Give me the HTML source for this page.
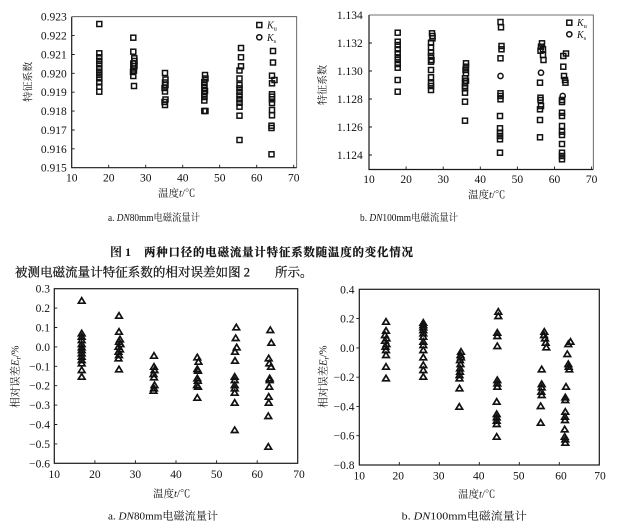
<!DOCTYPE html>
<html><head><meta charset="utf-8"><style>
html,body{margin:0;padding:0;background:#fff;}
svg{display:block;}
.t{font-family:"Liberation Serif","Noto Serif CJK SC",serif;fill:#111;}
</style></head><body>
<svg width="617" height="528" viewBox="0 0 617 528" xmlns="http://www.w3.org/2000/svg">
<defs>
<rect id="s" x="-2.5" y="-2.5" width="5" height="5" fill="none" stroke="#111" stroke-width="1.5"/>
<circle id="c" r="2.6" fill="none" stroke="#111" stroke-width="1.5"/>
<path id="tr" d="M0,-3 L3.3,2.5 L-3.3,2.5 Z" fill="none" stroke="#111" stroke-width="1.7" stroke-linejoin="miter"/>
</defs>

<!-- ============ Chart 1a ============ -->
<g stroke="#1a1a1a" fill="none">
<path d="M71.7,16.7 V167.7 H296.7" stroke-width="1.2"/>
<path d="M71.7,16.7 H296.7 V167.7" stroke-width="0.8" stroke="#444"/>
<path d="M108.7,167.7v-3 M145.7,167.7v-3 M182.7,167.7v-3 M219.7,167.7v-3 M256.7,167.7v-3 M293.7,167.7v-3" stroke-width="0.9"/>
<path d="M71.7,35.6h3 M71.7,54.5h3 M71.7,73.3h3 M71.7,92.2h3 M71.7,111.1h3 M71.7,130h3 M71.7,148.8h3" stroke-width="0.9"/>
</g>
<g class="t" font-size="11.5" text-anchor="end">
<text x="66.7" y="20.7">0.923</text><text x="66.7" y="39.6">0.922</text><text x="66.7" y="58.5">0.921</text><text x="66.7" y="77.3">0.920</text><text x="66.7" y="96.2">0.919</text><text x="66.7" y="115.1">0.918</text><text x="66.7" y="134">0.917</text><text x="66.7" y="152.8">0.916</text><text x="66.7" y="171.7">0.915</text>
</g>
<g class="t" font-size="11.5" text-anchor="middle">
<text x="71.7" y="181.5">10</text><text x="108.7" y="181.5">20</text><text x="145.7" y="181.5">30</text><text x="182.7" y="181.5">40</text><text x="219.7" y="181.5">50</text><text x="256.7" y="181.5">60</text><text x="293.7" y="181.5">70</text>
</g>
<text class="t" font-size="10.5" text-anchor="middle" x="176.7" y="196.5">温度<tspan font-style="italic">t</tspan>/℃</text>
<text class="t" font-size="10" text-anchor="middle" transform="translate(31.5,81.7) rotate(-90)">特征系数</text>
<use href="#s" x="259.3" y="25"/><use href="#c" x="259.3" y="37.3"/>
<text class="t" font-size="10" x="267" y="28.5" font-style="italic">K<tspan font-size="6.5" dy="2" font-style="normal">u</tspan></text>
<text class="t" font-size="10" x="267" y="40.8" font-style="italic">K<tspan font-size="6.5" dy="2" font-style="normal">s</tspan></text>
<g>
<use href="#s" x="99.3" y="24"/><use href="#s" x="99.3" y="53.3"/><use href="#s" x="99.3" y="57.3"/><use href="#s" x="99.3" y="61"/><use href="#s" x="99.3" y="64.3"/><use href="#s" x="99.3" y="68.3"/><use href="#s" x="99.3" y="71.7"/><use href="#s" x="99.3" y="75"/><use href="#s" x="99.3" y="78.3"/><use href="#s" x="99.3" y="82.3"/><use href="#s" x="99.3" y="86.7"/><use href="#s" x="99.3" y="91.7"/>
<use href="#s" x="133.3" y="37.7"/><use href="#s" x="133.3" y="51.7"/><use href="#s" x="134.3" y="58.3"/><use href="#s" x="134.5" y="61"/><use href="#s" x="133.3" y="63.5"/><use href="#s" x="134.5" y="66"/><use href="#s" x="133.3" y="68.5"/><use href="#s" x="134" y="70.5"/><use href="#s" x="133" y="72"/><use href="#s" x="133.3" y="76"/><use href="#s" x="134" y="86"/>
<use href="#s" x="165" y="73"/><use href="#s" x="165.5" y="79.5"/><use href="#s" x="165" y="82.5"/><use href="#s" x="165.5" y="85"/><use href="#s" x="164.5" y="88"/><use href="#s" x="165" y="91.5"/><use href="#s" x="165.5" y="99.5"/><use href="#s" x="164.5" y="102"/><use href="#s" x="165" y="105"/>
<use href="#s" x="205" y="75"/><use href="#s" x="205.5" y="78.5"/><use href="#s" x="204.3" y="82"/><use href="#s" x="204.5" y="85"/><use href="#s" x="204.3" y="88"/><use href="#s" x="205" y="91"/><use href="#s" x="204.3" y="94"/><use href="#s" x="204.5" y="97"/><use href="#s" x="204.3" y="100.5"/><use href="#s" x="204.3" y="111"/><use href="#s" x="205.5" y="111"/>
<use href="#s" x="241" y="48"/><use href="#s" x="241" y="57.3"/><use href="#s" x="241" y="66.3"/><use href="#s" x="239.5" y="70.5"/><use href="#s" x="239.5" y="78.5"/><use href="#s" x="239.5" y="85"/><use href="#s" x="239.5" y="88.3"/><use href="#s" x="239.5" y="92"/><use href="#s" x="239.5" y="95.5"/><use href="#s" x="239.5" y="99.3"/><use href="#s" x="239.5" y="102.7"/><use href="#s" x="239.5" y="106.7"/><use href="#s" x="239.5" y="115.7"/><use href="#s" x="239.5" y="140"/>
<use href="#s" x="273" y="51"/><use href="#s" x="273" y="62.5"/><use href="#s" x="272" y="75.7"/><use href="#s" x="274.5" y="80"/><use href="#s" x="272" y="83.3"/><use href="#s" x="272" y="94.3"/><use href="#s" x="272" y="96.7"/><use href="#s" x="272" y="99.3"/><use href="#s" x="272" y="103"/><use href="#s" x="272" y="110"/><use href="#s" x="272" y="115.3"/><use href="#s" x="271.5" y="125.7"/><use href="#s" x="271.5" y="128"/><use href="#s" x="271.5" y="154.3"/>
</g>

<!-- ============ Chart 1b ============ -->
<g stroke="#1a1a1a" fill="none">
<path d="M369,15 V169.5 H593.3" stroke-width="1.2"/>
<path d="M369,15 H593.3 V169.5" stroke-width="0.8" stroke="#444"/>
<path d="M406.1,169.5v-3 M443.2,169.5v-3 M480.3,169.5v-3 M517.4,169.5v-3 M554.5,169.5v-3 M591.6,169.5v-3" stroke-width="0.9"/>
<path d="M369,43h3 M369,71h3 M369,99h3 M369,127h3 M369,155h3" stroke-width="0.9"/>
</g>
<g class="t" font-size="11.5" text-anchor="end">
<text x="362.7" y="19">1.134</text><text x="362.7" y="47">1.132</text><text x="362.7" y="75">1.130</text><text x="362.7" y="103">1.128</text><text x="362.7" y="131">1.126</text><text x="362.7" y="159">1.124</text>
</g>
<g class="t" font-size="11.5" text-anchor="middle">
<text x="369" y="183">10</text><text x="406.1" y="183">20</text><text x="443.2" y="183">30</text><text x="480.3" y="183">40</text><text x="517.4" y="183">50</text><text x="554.5" y="183">60</text><text x="591.6" y="183">70</text>
</g>
<text class="t" font-size="10.5" text-anchor="middle" x="486.7" y="198">温度<tspan font-style="italic">t</tspan>/℃</text>
<text class="t" font-size="10" text-anchor="middle" transform="translate(326,85) rotate(-90)">特征系数</text>
<use href="#s" x="569.3" y="22.7"/><use href="#c" x="569.3" y="34.3"/>
<text class="t" font-size="10" x="577" y="26.2" font-style="italic">K<tspan font-size="6.5" dy="2" font-style="normal">u</tspan></text>
<text class="t" font-size="10" x="577" y="37.8" font-style="italic">K<tspan font-size="6.5" dy="2" font-style="normal">s</tspan></text>
<g>
<use href="#s" x="397.7" y="32.7"/><use href="#s" x="397.7" y="41.7"/><use href="#s" x="397.7" y="45"/><use href="#s" x="397.7" y="49.3"/><use href="#s" x="397.7" y="53.3"/><use href="#s" x="397.7" y="57.3"/><use href="#s" x="397.7" y="60"/><use href="#s" x="397.7" y="64"/><use href="#s" x="397.7" y="67.7"/><use href="#s" x="397.7" y="80"/><use href="#s" x="397.7" y="91.7"/>
<use href="#s" x="432" y="33.3"/><use href="#s" x="432.5" y="36"/><use href="#s" x="432.5" y="38.3"/><use href="#s" x="431" y="42.7"/><use href="#s" x="431" y="47.3"/><use href="#s" x="431" y="52.7"/><use href="#s" x="431" y="56"/><use href="#s" x="431.5" y="60"/><use href="#s" x="431" y="61.7"/><use href="#s" x="431" y="70"/><use href="#s" x="431" y="77.3"/><use href="#s" x="431" y="83.3"/><use href="#s" x="431" y="86"/><use href="#s" x="431" y="90"/>
<use href="#s" x="466" y="63.3"/><use href="#s" x="466" y="66.7"/><use href="#s" x="465.5" y="70"/><use href="#s" x="466" y="73.3"/><use href="#s" x="465" y="78.3"/><use href="#s" x="466" y="80.7"/><use href="#s" x="465" y="82.7"/><use href="#s" x="465" y="86"/><use href="#s" x="465" y="88.3"/><use href="#s" x="465" y="92.7"/><use href="#s" x="465" y="101.7"/><use href="#s" x="465" y="120.7"/>
<use href="#s" x="500.5" y="22"/><use href="#s" x="501" y="27.3"/><use href="#s" x="501.5" y="46"/><use href="#s" x="501.5" y="49.3"/><use href="#s" x="500.5" y="58.3"/><use href="#c" x="500.5" y="76"/><use href="#s" x="500.5" y="93.3"/><use href="#s" x="500.5" y="96"/><use href="#s" x="500.5" y="99.3"/><use href="#s" x="500" y="116"/><use href="#s" x="500" y="128.3"/><use href="#s" x="500" y="132.7"/><use href="#s" x="500" y="136"/><use href="#s" x="500" y="139.3"/><use href="#s" x="500" y="152.7"/>
<use href="#s" x="542" y="43.3"/><use href="#s" x="541" y="46.7"/><use href="#s" x="543" y="49.3"/><use href="#s" x="540.5" y="50.7"/><use href="#s" x="543" y="55"/><use href="#s" x="543.5" y="60"/><use href="#c" x="541" y="72.7"/><use href="#s" x="540" y="82.7"/><use href="#s" x="540.5" y="97.7"/><use href="#s" x="540.5" y="100"/><use href="#s" x="541" y="106"/><use href="#s" x="540" y="109.3"/><use href="#s" x="540" y="120"/><use href="#s" x="540" y="137.3"/>
<use href="#s" x="563.3" y="56"/><use href="#s" x="566" y="53.5"/><use href="#s" x="563.3" y="66.7"/><use href="#s" x="564" y="76"/><use href="#s" x="565" y="80"/><use href="#s" x="565.5" y="82.7"/><use href="#c" x="562.7" y="96"/><use href="#s" x="562" y="100"/><use href="#s" x="562" y="102"/><use href="#s" x="562" y="112.7"/><use href="#s" x="562" y="116"/><use href="#s" x="562" y="126"/><use href="#s" x="562" y="131.7"/><use href="#s" x="562" y="135"/><use href="#s" x="562" y="144"/><use href="#s" x="562" y="152.7"/><use href="#s" x="562" y="156"/><use href="#s" x="562" y="159.3"/>
</g>

<!-- ============ Captions / text ============ -->
<text class="t" font-size="10" x="108" y="221" textLength="92" lengthAdjust="spacingAndGlyphs">a. <tspan font-style="italic">DN</tspan>80mm电磁流量计</text>
<text class="t" font-size="10" x="360" y="221" textLength="98" lengthAdjust="spacingAndGlyphs">b. <tspan font-style="italic">DN</tspan>100mm电磁流量计</text>
<text class="t" font-size="12" x="110" y="256" font-weight="bold">图 1</text>
<text class="t" font-size="11.5" x="144" y="256" textLength="269" lengthAdjust="spacing" font-weight="bold" stroke="#111" stroke-width="0.2">两种口径的电磁流量计特征系数随温度的变化情况</text>
<text class="t" font-size="12.5" x="15" y="276.5" textLength="235" lengthAdjust="spacing" stroke="#111" stroke-width="0.25">被测电磁流量计特征系数的相对误差如图 2</text>
<text class="t" font-size="12.5" x="275" y="276.5" stroke="#111" stroke-width="0.25">所示。</text>

<!-- ============ Chart 2a ============ -->
<g stroke="#1a1a1a" fill="none">
<rect x="54.3" y="288.7" width="243.4" height="174.6" stroke-width="1.2"/>
<path d="M94.9,463.3v-3 M135.4,463.3v-3 M176,463.3v-3 M216.6,463.3v-3 M257.2,463.3v-3" stroke-width="0.9"/>
<path d="M54.3,308.1h3 M54.3,327.5h3 M54.3,346.9h3 M54.3,366.3h3 M54.3,385.7h3 M54.3,405.1h3 M54.3,424.5h3 M54.3,443.9h3" stroke-width="0.9"/>
</g>
<g class="t" font-size="11.5" text-anchor="end">
<text x="50" y="292.7">0.3</text><text x="50" y="312.1">0.2</text><text x="50" y="331.5">0.1</text><text x="50" y="350.9">0.0</text><text x="50" y="370.3">−0.1</text><text x="50" y="389.7">−0.2</text><text x="50" y="409.1">−0.3</text><text x="50" y="428.5">−0.4</text><text x="50" y="447.9">−0.5</text><text x="50" y="467.3">−0.6</text>
</g>
<g class="t" font-size="11.5" text-anchor="middle">
<text x="54.3" y="478">10</text><text x="94.9" y="478">20</text><text x="135.4" y="478">30</text><text x="176" y="478">40</text><text x="216.6" y="478">50</text><text x="257.2" y="478">60</text><text x="299" y="478">70</text>
</g>
<text class="t" font-size="10.5" text-anchor="middle" x="171.7" y="497">温度<tspan font-style="italic">t</tspan>/℃</text>
<text class="t" font-size="10.5" text-anchor="middle" transform="translate(18.5,376.7) rotate(-90)">相对误差<tspan font-style="italic">E</tspan><tspan font-size="7" dy="2">r</tspan><tspan dy="-2">/%</tspan></text>
<text class="t" font-size="11" x="108" y="519.5" textLength="110" lengthAdjust="spacingAndGlyphs">a.  <tspan font-style="italic">DN</tspan>80mm电磁流量计</text>
<g>
<use href="#tr" x="81.7" y="300.7"/><use href="#tr" x="81.7" y="333.3"/><use href="#tr" x="81.7" y="336.7"/><use href="#tr" x="81.7" y="340"/><use href="#tr" x="81.7" y="344"/><use href="#tr" x="81.7" y="347.3"/><use href="#tr" x="81.7" y="350"/><use href="#tr" x="81.7" y="353.3"/><use href="#tr" x="81.7" y="356.7"/><use href="#tr" x="81.7" y="360"/><use href="#tr" x="81.7" y="363.3"/><use href="#tr" x="81.7" y="370"/><use href="#tr" x="81.7" y="376.7"/>
<use href="#tr" x="119" y="315.7"/><use href="#tr" x="119" y="331.7"/><use href="#tr" x="120" y="339.3"/><use href="#tr" x="119" y="341.7"/><use href="#tr" x="120.5" y="344"/><use href="#tr" x="118.5" y="346.7"/><use href="#tr" x="120" y="349.3"/><use href="#tr" x="118.5" y="351.7"/><use href="#tr" x="119" y="355"/><use href="#tr" x="118.5" y="358.3"/><use href="#tr" x="119" y="369.3"/>
<use href="#tr" x="154" y="355.7"/><use href="#tr" x="154" y="366.7"/><use href="#tr" x="154.5" y="370"/><use href="#tr" x="153.5" y="374"/><use href="#tr" x="154" y="377.3"/><use href="#tr" x="154.5" y="385"/><use href="#tr" x="154" y="388.3"/><use href="#tr" x="153.5" y="390.7"/>
<use href="#tr" x="197.3" y="357.3"/><use href="#tr" x="198.5" y="361.7"/><use href="#tr" x="197.3" y="369"/><use href="#tr" x="198" y="370.7"/><use href="#tr" x="197.3" y="378.3"/><use href="#tr" x="197.8" y="380.7"/><use href="#tr" x="197" y="385"/><use href="#tr" x="198" y="386.7"/><use href="#tr" x="197.3" y="397.7"/>
<use href="#tr" x="236.3" y="327.3"/><use href="#tr" x="235.7" y="338"/><use href="#tr" x="236.7" y="347.3"/><use href="#tr" x="235" y="351.7"/><use href="#tr" x="235" y="360.7"/><use href="#tr" x="234.7" y="376.7"/><use href="#tr" x="234.7" y="380"/><use href="#tr" x="234.7" y="385"/><use href="#tr" x="234.7" y="388.3"/><use href="#tr" x="234.7" y="392.7"/><use href="#tr" x="234.7" y="402.7"/><use href="#tr" x="234.7" y="430"/>
<use href="#tr" x="270.3" y="330"/><use href="#tr" x="271.3" y="342.7"/><use href="#tr" x="268.7" y="358.3"/><use href="#tr" x="269.3" y="363.3"/><use href="#tr" x="271" y="366.7"/><use href="#tr" x="269.7" y="378.3"/><use href="#tr" x="269.7" y="380"/><use href="#tr" x="269.3" y="386.7"/><use href="#tr" x="268.7" y="396.7"/><use href="#tr" x="268.7" y="402.7"/><use href="#tr" x="268.3" y="416"/><use href="#tr" x="268.3" y="446.7"/>
</g>

<!-- ============ Chart 2b ============ -->
<g stroke="#1a1a1a" fill="none">
<rect x="359.3" y="289.3" width="240" height="175.7" stroke-width="1.2"/>
<path d="M399.3,465v-3 M439.3,465v-3 M479.3,465v-3 M519.3,465v-3 M559.3,465v-3" stroke-width="0.9"/>
<path d="M359.3,318.6h-3 M359.3,347.9h-3 M359.3,377.2h-3 M359.3,406.4h-3 M359.3,435.7h-3" stroke-width="0.9"/>
</g>
<g class="t" font-size="11.5" text-anchor="end">
<text x="354.5" y="293.3">0.4</text><text x="354.5" y="322.6">0.2</text><text x="354.5" y="351.9">0.0</text><text x="354.5" y="381.2">−0.2</text><text x="354.5" y="410.4">−0.4</text><text x="354.5" y="439.7">−0.6</text><text x="354.5" y="469">−0.8</text>
</g>
<g class="t" font-size="11.5" text-anchor="middle">
<text x="359.3" y="479.5">10</text><text x="398.3" y="479.5">20</text><text x="438.8" y="479.5">30</text><text x="478.8" y="479.5">40</text><text x="518.8" y="479.5">50</text><text x="561" y="479.5">60</text><text x="600" y="479.5">70</text>
</g>
<text class="t" font-size="10.5" text-anchor="middle" x="476.7" y="497.5">温度<tspan font-style="italic">t</tspan>/℃</text>
<text class="t" font-size="10.5" text-anchor="middle" transform="translate(326.5,376.7) rotate(-90)">相对误差<tspan font-style="italic">E</tspan><tspan font-size="7" dy="2">r</tspan><tspan dy="-2">/%</tspan></text>
<text class="t" font-size="11" x="401.7" y="519.5" textLength="125" lengthAdjust="spacingAndGlyphs">b.  <tspan font-style="italic">DN</tspan>100mm电磁流量计</text>
<g>
<use href="#tr" x="386" y="321.7"/><use href="#tr" x="386" y="330.7"/><use href="#tr" x="385" y="335"/><use href="#tr" x="386.5" y="338.3"/><use href="#tr" x="385" y="340.7"/><use href="#tr" x="386.5" y="344"/><use href="#tr" x="385.5" y="346.7"/><use href="#tr" x="386" y="350"/><use href="#tr" x="386" y="355"/><use href="#tr" x="386" y="366.7"/><use href="#tr" x="386" y="378.3"/>
<use href="#tr" x="423.3" y="322.7"/><use href="#tr" x="423.3" y="325"/><use href="#tr" x="423.3" y="327.3"/><use href="#tr" x="423.3" y="330"/><use href="#tr" x="423.3" y="333.3"/><use href="#tr" x="423.3" y="336.7"/><use href="#tr" x="423.3" y="341.7"/><use href="#tr" x="423.3" y="345"/><use href="#tr" x="423.3" y="350"/><use href="#tr" x="423.3" y="357.3"/><use href="#tr" x="423.3" y="365"/><use href="#tr" x="423.3" y="370"/><use href="#tr" x="423.3" y="376.7"/>
<use href="#tr" x="461" y="351.7"/><use href="#tr" x="460.5" y="355"/><use href="#tr" x="461" y="357.3"/><use href="#tr" x="460" y="360"/><use href="#tr" x="460.5" y="364"/><use href="#tr" x="460" y="368.3"/><use href="#tr" x="460" y="371.7"/><use href="#tr" x="459.5" y="375"/><use href="#tr" x="459.5" y="378.3"/><use href="#tr" x="459.5" y="388.3"/><use href="#tr" x="459.3" y="406.7"/>
<use href="#tr" x="498.3" y="311.7"/><use href="#tr" x="498.3" y="316"/><use href="#tr" x="497.3" y="332.7"/><use href="#tr" x="497.3" y="336"/><use href="#tr" x="497.3" y="346"/><use href="#tr" x="497.3" y="380"/><use href="#tr" x="497.3" y="383.3"/><use href="#tr" x="497.3" y="386.7"/><use href="#tr" x="496.7" y="401.7"/><use href="#tr" x="496.7" y="414"/><use href="#tr" x="496.7" y="417.3"/><use href="#tr" x="496.7" y="420.7"/><use href="#tr" x="496.7" y="424"/><use href="#tr" x="496.7" y="436.7"/>
<use href="#tr" x="544.3" y="331.7"/><use href="#tr" x="544" y="335"/><use href="#tr" x="545" y="338.3"/><use href="#tr" x="545.7" y="342.7"/><use href="#tr" x="546.3" y="347.3"/><use href="#tr" x="541.7" y="369.3"/><use href="#tr" x="541.7" y="384"/><use href="#tr" x="541.7" y="387.3"/><use href="#tr" x="541.3" y="391.7"/><use href="#tr" x="541.7" y="395"/><use href="#tr" x="540.7" y="406"/><use href="#tr" x="540.7" y="422.7"/>
<use href="#tr" x="570.5" y="341.7"/><use href="#tr" x="568.3" y="344"/><use href="#tr" x="567.3" y="354"/><use href="#tr" x="568.3" y="364"/><use href="#tr" x="568.7" y="366.7"/><use href="#tr" x="569.3" y="369.3"/><use href="#tr" x="566" y="386.7"/><use href="#tr" x="565.3" y="397.3"/><use href="#tr" x="565.3" y="400"/><use href="#tr" x="565.3" y="411.7"/><use href="#tr" x="565" y="416.7"/><use href="#tr" x="565" y="420"/><use href="#tr" x="564.7" y="429.3"/><use href="#tr" x="564.7" y="436.7"/><use href="#tr" x="565.3" y="439.3"/><use href="#tr" x="565.3" y="442.7"/>
</g>
</svg>
</body></html>
